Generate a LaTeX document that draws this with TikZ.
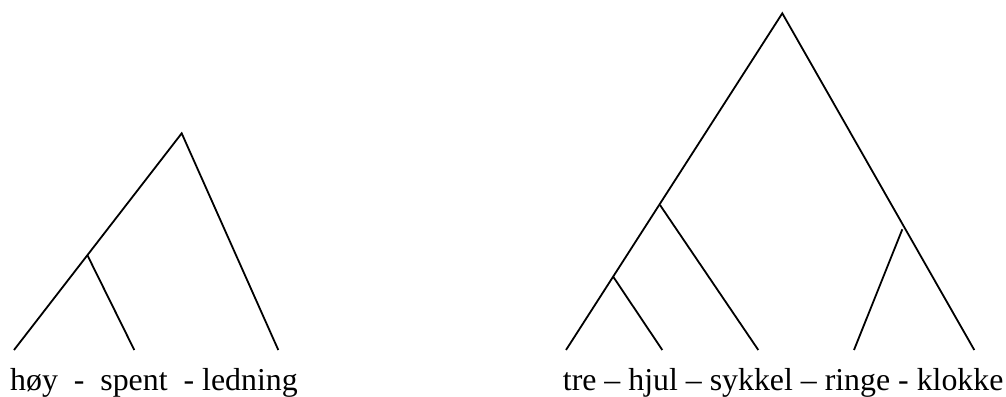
\documentclass[tikz,border=0pt]{standalone}
\usepackage{fontspec}
\setmainfont{Liberation Serif}

\begin{document}
\begin{tikzpicture}[
    x=1pt, y=-1pt,
    branch/.style={
      line width=1.8pt,
      color=black
    },
    words/.style={
      font=\fontsize{31.85}{38}\selectfont,
      anchor=base west,
      inner sep=0pt
    }
  ]
  \useasboundingbox (0,0) rectangle (1006,396);

  % left tree
  \coordinate (lroot) at (181.7,133.3);
  \coordinate (lmid)  at (87.3,255);
  \coordinate (hoy)   at (14,350);
  \coordinate (spent) at (134.3,350);
  \coordinate (led)   at (278.3,350);

  \draw[branch] (hoy) -- (lroot) -- (led);
  \draw[branch] (lmid) -- (spent);

  \node[words] (lwords) at (10,390) {høy~~-~~spent~~-~ledning};

  % right tree
  \coordinate (rroot) at (782.3,13.3);
  \coordinate (rmid)  at (660,205);
  \coordinate (rlow)  at (613.2,276.7);
  \coordinate (rside) at (902.3,229.3);
  \coordinate (tre)   at (566,350);
  \coordinate (hjul)  at (662.3,350);
  \coordinate (syk)   at (758.3,350);
  \coordinate (ringe) at (854,350);
  \coordinate (klok)  at (974.3,350);

  \draw[branch] (tre) -- (rroot) -- (klok);
  \draw[branch] (rlow) -- (hjul);
  \draw[branch] (rmid) -- (syk);
  \draw[branch] (rside) -- (ringe);

  \node[words] (rwords) at (562.7,390) {tre -- hjul -- sykkel -- ringe - klokke};

\end{tikzpicture}
\end{document}
